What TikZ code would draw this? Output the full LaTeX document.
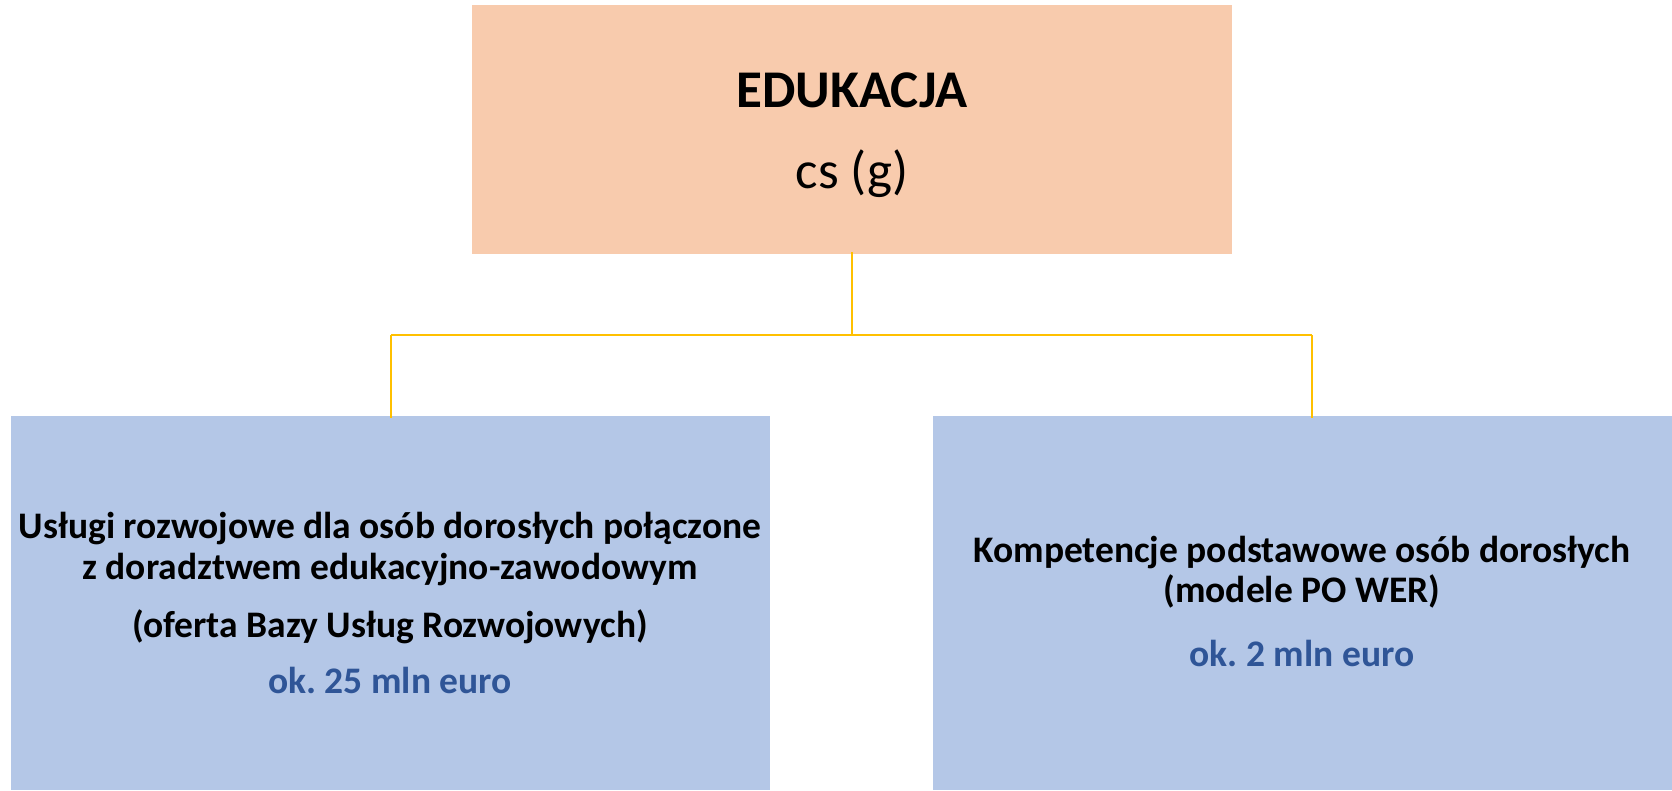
\documentclass[tikz,border=0pt]{standalone}
\usepackage{fontspec}
\setmainfont{Carlito}
\frenchspacing
\definecolor{peach}{HTML}{F8CBAD}
\definecolor{paleblue}{HTML}{B4C7E7}
\definecolor{gold}{HTML}{FFC000}
\definecolor{darkblue}{HTML}{2F5597}
\tikzset{
  box/.style={draw=none, inner sep=0pt, minimum height=374pt},
  conn/.style={draw=gold, line width=2.5pt},
  txt/.style={anchor=base, inner sep=0pt, font=\fontsize{37.5}{45}\selectfont\bfseries},
  money/.style={txt, text=darkblue},
}
\begin{document}
\begin{tikzpicture}[x=1pt,y=-1pt]
\useasboundingbox (0,0) rectangle (1672,790);
\node[box, fill=peach, minimum width=760pt, minimum height=249pt] (top) at (852,129.5) {};
\node[box, fill=paleblue, minimum width=759pt] (left) at (390.5,603) {};
\node[box, fill=paleblue, minimum width=739pt] (right) at (1302.5,603) {};

\node[anchor=base, inner sep=0pt, font=\fontsize{53}{60}\selectfont\bfseries] (t1) at (852,107) {EDUKACJA};
\node[anchor=base, inner sep=0pt, font=\fontsize{53}{60}\selectfont] (t2) at (852,188) {cs (g)};

\node[txt] (l1) at (390,538) {Usługi rozwojowe dla osób dorosłych połączone};
\node[txt] (l2) at (390,579) {z doradztwem edukacyjno-zawodowym};
\node[txt] (l3) at (390,637) {(oferta Bazy Usług Rozwojowych)};
\node[money] (l4) at (390,693) {ok. 25 mln euro};

\node[txt] (r1) at (1302,562) {Kompetencje podstawowe osób dorosłych};
\node[txt] (r2) at (1302,602) {(modele PO WER)};
\node[money] (r3) at (1302,666) {ok. 2 mln euro};

\coordinate (jL) at (391,335);
\coordinate (jR) at (1312,335);
\coordinate (jT) at (852,335);
\draw[conn] ([yshift=2pt]top.south) -- (jT);
\draw[conn] (jL) -- (jR);
\draw[conn] (jL) -- ([yshift=-2pt]jL |- left.north);
\draw[conn] (jR) -- ([yshift=-2pt]jR |- right.north);
\end{tikzpicture}
\end{document}
